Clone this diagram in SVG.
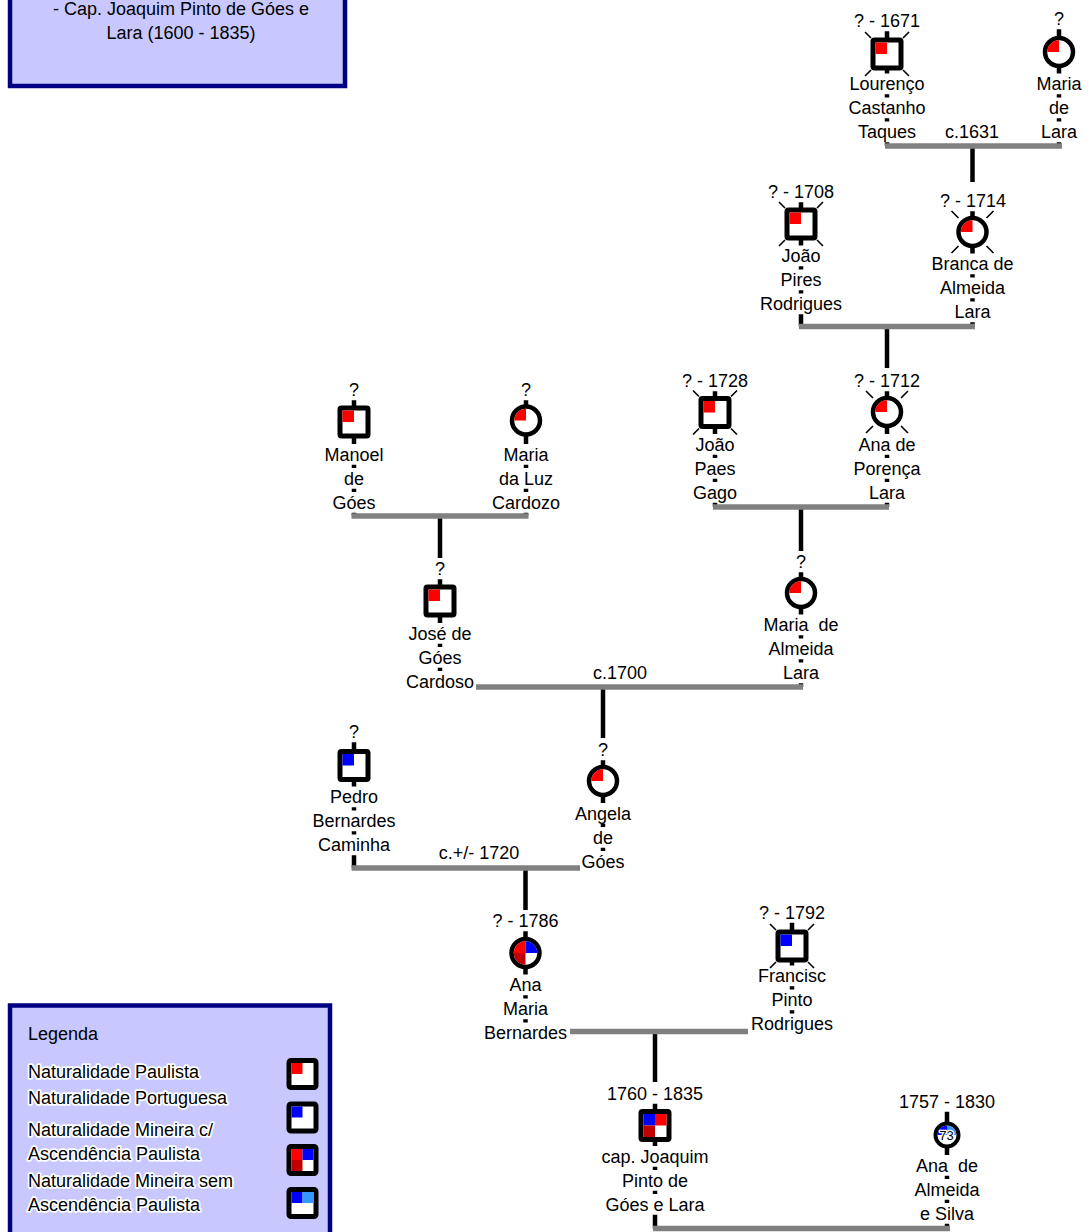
<svg xmlns="http://www.w3.org/2000/svg" xmlns:xlink="http://www.w3.org/1999/xlink" width="1089" height="1232" viewBox="0 0 1089 1232">
<style>
.t{font-family:"Liberation Sans",Arial,sans-serif;font-size:18px;fill:#000;text-anchor:middle}
.lg{font-family:"Liberation Sans",Arial,sans-serif;font-size:18px;fill:#000;stroke:#fff;stroke-width:3.5;stroke-linejoin:round;paint-order:stroke}
.box{fill:#c8c8ff;stroke:#000080;stroke-width:4.5}
.nb{fill:#fff;stroke:#000;stroke-width:5}
.nc{fill:#fff;stroke:#000;stroke-width:4.5}
.st{fill:none;stroke:#000;stroke-width:4.5}
.bar{fill:none;stroke:#808080;stroke-width:5.5}
.x{fill:none;stroke:#000;stroke-width:1.6}
</style>
<defs>
<g id="sqR"><rect x="-14" y="-14" width="28" height="28" rx="1.5" class="nb"/><rect x="-11.5" y="-11.5" width="11.5" height="11.5" fill="#f00"/></g>
<g id="sqB"><rect x="-14" y="-14" width="28" height="28" rx="1.5" class="nb"/><rect x="-11.5" y="-11.5" width="11.5" height="11.5" fill="#00f"/></g>
<g id="sq4"><rect x="-14" y="-14" width="28" height="28" rx="1.5" class="nb"/><rect x="-11.5" y="-11.5" width="11.5" height="11.5" fill="#00f"/><rect x="0" y="-11.5" width="11.5" height="11.5" fill="#f00"/><rect x="-11.5" y="0" width="11.5" height="11.5" fill="#c00000"/></g>
<g id="ciR"><circle r="14" class="nc"/><path d="M0 0H-11.75A11.75 11.75 0 0 1 0 -11.75Z" fill="#f00"/></g>
<g id="ci4"><circle r="14" class="nc"/><path d="M0 0H-11.75A11.75 11.75 0 0 1 0 -11.75Z" fill="#f00"/><path d="M0 0V-11.75A11.75 11.75 0 0 1 11.75 0Z" fill="#00f"/><path d="M0 0V11.75A11.75 11.75 0 0 1 -11.75 0Z" fill="#c00000"/></g>
<path id="dS" class="x" d="M-22 -22L-16 -16M22 -22L16 -16M-22 22L-16 16M22 22L16 16"/>
<path id="dC" class="x" d="M-21 -21L-14 -14M21 -21L14 -14M-21 21L-14 14M21 21L14 14"/>
<g id="lgI"><rect x="-13.5" y="-13.5" width="27" height="27" rx="2" class="nb"/></g>
</defs>

<g id="title-box">
<rect x="10" y="-12" width="335" height="98" class="box"/>
<text class="t" x="181" y="15">- Cap. Joaquim Pinto de Góes e</text>
<text class="t" x="181" y="39">Lara (1600 - 1835)</text>
</g>

<g id="connectors">
<path class="st" d="M887 31.3V44M887 64V73.6M887 94.3V97.6M887 118.3V121.6M887 142.3V146"/>
<path class="st" d="M1059 29.3V42M1059 62V73.6M1059 94.3V97.6M1059 118.3V121.6M1059 142.3V146"/>
<path class="st" d="M972.5 146V182"/>
<path class="st" d="M801 202.3V214M801 234V245.6M801 266.3V269.6M801 290.3V293.6M801 314.3V326.5"/>
<path class="st" d="M972.5 211.3V222M972.5 242V253.6M972.5 274.3V277.6M972.5 298.3V301.6M972.5 322.3V326.5"/>
<path class="st" d="M887 326.5V368"/>
<path class="st" d="M715 391.3V402M715 422V434.1M715 454.8V458.1M715 478.8V482.1M715 502.8V507"/>
<path class="st" d="M887 391.3V402M887 422V434.1M887 454.8V458.1M887 478.8V482.1M887 502.8V507"/>
<path class="st" d="M801 507V551"/>
<path class="st" d="M354 400.3V412M354 432V444.1M354 464.8V468.1M354 488.8V492.1M354 512.8V516"/>
<path class="st" d="M526 400.3V410M526 430V444.1M526 464.8V468.1M526 488.8V492.1M526 512.8V516"/>
<path class="st" d="M440 516V558"/>
<path class="st" d="M440 579.3V591M440 611V623.1M440 643.8V647.1M440 667.8V671.1"/>
<path class="st" d="M801 572.3V583M801 603V614.6M801 635.3V638.6M801 659.3V662.6M801 683.3V687"/>
<path class="st" d="M603 687V738"/>
<path class="st" d="M354 742.3V755M354 775V786.6M354 807.3V810.6M354 831.3V834.6M354 855.3V868"/>
<path class="st" d="M603 760.3V771M603 791V803.1M603 823.8V827.1M603 847.8V851.1"/>
<path class="st" d="M525.5 868V910"/>
<path class="st" d="M525.5 931.3V943M525.5 963V974.6M525.5 995.3V998.6M525.5 1019.3V1022.6"/>
<path class="st" d="M792 922.8V936M792 956V965.6M792 986.3V989.6M792 1010.3V1013.6"/>
<path class="st" d="M655 1031.5V1082"/>
<path class="st" d="M655 1103.8V1115M655 1135V1146.1M655 1166.8V1170.1M655 1190.8V1194.1M655 1214.8V1228.5"/>
<path class="st" d="M947 1111.8V1125M947 1145V1155.1M947 1175.8V1179.1M947 1199.8V1203.1M947 1223.8V1228.5"/>
<path class="bar" d="M885 146H1062"/>
<path class="bar" d="M799 326.5H975"/>
<path class="bar" d="M713 507H889"/>
<path class="bar" d="M351.5 516H528.5"/>
<path class="bar" d="M476 687H803"/>
<path class="bar" d="M351.5 868H580"/>
<path class="bar" d="M570 1031.5H748"/>
<path class="bar" d="M653 1228.5H950"/>
<text class="t" x="972" y="138">c.1631</text>
<text class="t" x="620" y="679">c.1700</text>
<text class="t" x="479" y="858.5">c.+/- 1720</text>
</g>

<g id="lourenco">
<use xlink:href="#sqR" x="887" y="54"/><use xlink:href="#dS" x="887" y="54"/>
<text class="t" x="887" y="27">? - 1671</text>
<text class="t" x="887" y="90">Lourenço</text><text class="t" x="887" y="114">Castanho</text><text class="t" x="887" y="138">Taques</text>
</g>
<g id="maria-de-lara">
<use xlink:href="#ciR" x="1059" y="52"/>
<text class="t" x="1059" y="25">?</text>
<text class="t" x="1059" y="90">Maria</text><text class="t" x="1059" y="114">de</text><text class="t" x="1059" y="138">Lara</text>
</g>
<g id="joao-pires">
<use xlink:href="#sqR" x="801" y="224"/><use xlink:href="#dS" x="801" y="224"/>
<text class="t" x="801" y="198">? - 1708</text>
<text class="t" x="801" y="262">João</text><text class="t" x="801" y="286">Pires</text><text class="t" x="801" y="310">Rodrigues</text>
</g>
<g id="branca">
<use xlink:href="#ciR" x="972.5" y="232"/><use xlink:href="#dC" x="972.5" y="232"/>
<text class="t" x="973" y="207">? - 1714</text>
<text class="t" x="972.5" y="270">Branca de</text><text class="t" x="972.5" y="294">Almeida</text><text class="t" x="972.5" y="318">Lara</text>
</g>
<g id="joao-paes">
<use xlink:href="#sqR" x="715" y="412.5"/><use xlink:href="#dS" x="715" y="412.5"/>
<text class="t" x="715" y="387">? - 1728</text>
<text class="t" x="715" y="450.5">João</text><text class="t" x="715" y="474.5">Paes</text><text class="t" x="715" y="498.5">Gago</text>
</g>
<g id="ana-porenca">
<use xlink:href="#ciR" x="887" y="412"/><use xlink:href="#dC" x="887" y="412"/>
<text class="t" x="887" y="387">? - 1712</text>
<text class="t" x="887" y="450.5">Ana de</text><text class="t" x="887" y="474.5">Porença</text><text class="t" x="887" y="498.5">Lara</text>
</g>
<g id="manoel">
<use xlink:href="#sqR" x="354" y="422"/>
<text class="t" x="354" y="396">?</text>
<text class="t" x="354" y="460.5">Manoel</text><text class="t" x="354" y="484.5">de</text><text class="t" x="354" y="508.5">Góes</text>
</g>
<g id="maria-da-luz">
<use xlink:href="#ciR" x="526" y="420.5"/>
<text class="t" x="526" y="396">?</text>
<text class="t" x="526" y="460.5">Maria</text><text class="t" x="526" y="484.5">da Luz</text><text class="t" x="526" y="508.5">Cardozo</text>
</g>
<g id="jose">
<use xlink:href="#sqR" x="440" y="601"/>
<text class="t" x="440" y="575">?</text>
<text class="t" x="440" y="639.5">José de</text><text class="t" x="440" y="663.5">Góes</text><text class="t" x="440" y="687.5">Cardoso</text>
</g>
<g id="maria-almeida">
<use xlink:href="#ciR" x="801" y="593"/>
<text class="t" x="801" y="568">?</text>
<text class="t" x="801" y="631" xml:space="preserve">Maria  de</text><text class="t" x="801" y="655">Almeida</text><text class="t" x="801" y="679">Lara</text>
</g>
<g id="pedro">
<use xlink:href="#sqB" x="354" y="765.5"/>
<text class="t" x="354" y="738">?</text>
<text class="t" x="354" y="803">Pedro</text><text class="t" x="354" y="827">Bernardes</text><text class="t" x="354" y="851">Caminha</text>
</g>
<g id="angela">
<use xlink:href="#ciR" x="603" y="781"/>
<text class="t" x="603" y="756">?</text>
<text class="t" x="603" y="819.5">Angela</text><text class="t" x="603" y="843.5">de</text><text class="t" x="603" y="867.5">Góes</text>
</g>
<g id="ana-maria">
<use xlink:href="#ci4" x="525.5" y="953"/>
<text class="t" x="525.5" y="927">? - 1786</text>
<text class="t" x="525.5" y="991">Ana</text><text class="t" x="525.5" y="1015">Maria</text><text class="t" x="525.5" y="1039">Bernardes</text>
</g>
<g id="francisc">
<use xlink:href="#sqB" x="792" y="946"/><use xlink:href="#dS" x="792" y="946"/>
<text class="t" x="792" y="918.5">? - 1792</text>
<text class="t" x="792" y="982">Francisc</text><text class="t" x="792" y="1006">Pinto</text><text class="t" x="792" y="1030">Rodrigues</text>
</g>
<g id="joaquim">
<use xlink:href="#sq4" x="655" y="1125.5"/>
<text class="t" x="655" y="1099.5">1760 - 1835</text>
<text class="t" x="655" y="1162.5">cap. Joaquim</text><text class="t" x="655" y="1186.5">Pinto de</text><text class="t" x="655" y="1210.5">Góes e Lara</text>
</g>
<g id="ana-almeida-silva">
<circle cx="947" cy="1135" r="11.5" fill="#fff" stroke="#000" stroke-width="4"/>
<path d="M947 1135H937.5A9.5 9.5 0 0 1 947 1125.5Z" fill="#00f"/>
<path d="M947 1135V1125.5A9.5 9.5 0 0 1 956.5 1135Z" fill="#3399ff"/>
<text x="946.5" y="1139.5" font-family="Liberation Sans, Arial, sans-serif" font-size="13" text-anchor="middle" fill="#000" stroke="#fff" stroke-width="2.5" stroke-linejoin="round" paint-order="stroke">73</text>
<text class="t" x="947" y="1107.5">1757 - 1830</text>
<text class="t" x="947" y="1171.5" xml:space="preserve">Ana  de</text><text class="t" x="947" y="1195.5">Almeida</text><text class="t" x="947" y="1219.5">e Silva</text>
</g>

<g id="legend">
<rect x="10" y="1005.5" width="320" height="240" class="box"/>
<text x="28" y="1040" font-family="Liberation Sans, Arial, sans-serif" font-size="18" fill="#000">Legenda</text>
<text class="lg" x="28" y="1078">Naturalidade Paulista</text>
<text class="lg" x="28" y="1104">Naturalidade Portuguesa</text>
<text class="lg" x="28" y="1136">Naturalidade Mineira c/</text>
<text class="lg" x="28" y="1160">Ascendência Paulista</text>
<text class="lg" x="28" y="1187">Naturalidade Mineira sem</text>
<text class="lg" x="28" y="1211">Ascendência Paulista</text>
<use xlink:href="#lgI" x="302.5" y="1074"/><rect x="291.5" y="1063" width="11" height="11" fill="#f00"/>
<use xlink:href="#lgI" x="302.5" y="1117.5"/><rect x="291.5" y="1106.5" width="11" height="11" fill="#00f"/>
<use xlink:href="#lgI" x="302.5" y="1160"/><rect x="291.5" y="1149" width="11" height="11" fill="#f00"/><rect x="302.5" y="1149" width="11" height="11" fill="#00f"/><rect x="291.5" y="1160" width="11" height="11" fill="#c00000"/>
<use xlink:href="#lgI" x="302.5" y="1203"/><rect x="291.5" y="1192" width="11" height="11" fill="#00f"/><rect x="302.5" y="1192" width="11" height="11" fill="#3399ff"/>
</g>
</svg>
